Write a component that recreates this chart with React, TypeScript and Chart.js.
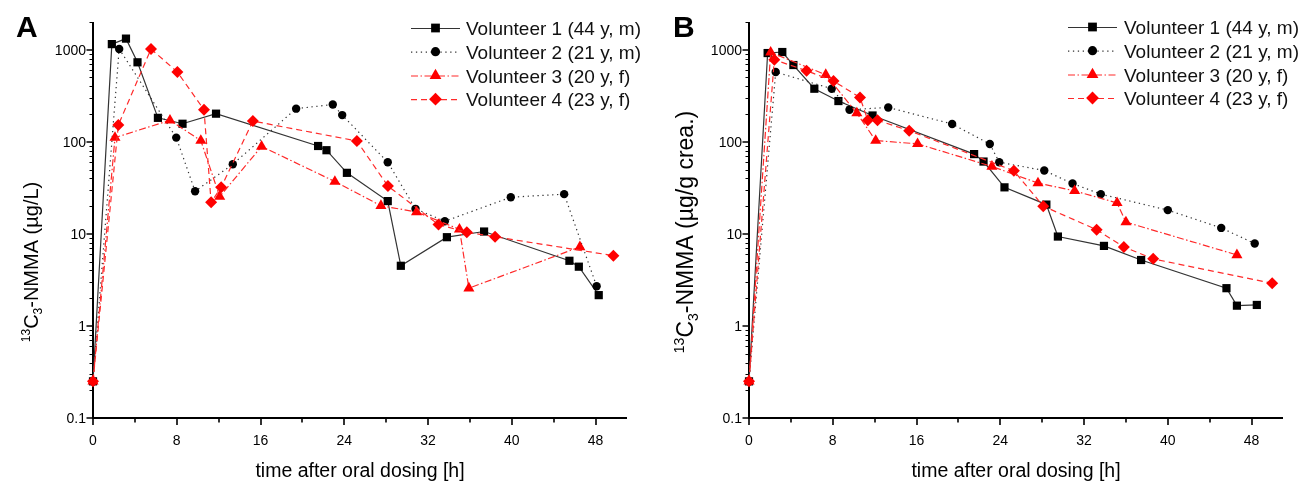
import React, { useEffect, useRef } from 'react';
import { Chart, registerables } from 'chart.js';

Chart.register(...registerables);

const FONT = '"Liberation Sans", Arial, Helvetica, sans-serif';

// ---------- Data ----------
const seriesNames = [
  'Volunteer 1 (44 y, m)',
  'Volunteer 2 (21 y, m)',
  'Volunteer 3 (20 y, f)',
  'Volunteer 4 (23 y, f)',
];

// Panel A: plasma, µg/L
const timeA1 = [0, 1.8, 3.15, 4.25, 6.2, 8.55, 11.75, 21.5, 22.3, 24.25, 28.15, 29.4, 33.8, 37.35, 45.5, 46.4, 48.3];
const concA1 = [0.25, 1150, 1320, 730, 182, 157, 202, 90, 81, 46, 22.7, 4.5, 9.2, 10.6, 5.1, 4.4, 2.16];
const timeA2 = [0, 2.5, 7.95, 9.75, 13.35, 19.4, 22.9, 23.8, 28.15, 30.8, 33.6, 39.9, 45.0, 48.1];
const concA2 = [0.25, 1020, 111, 29, 57, 229, 254, 195, 60, 18.7, 13.7, 25, 27, 2.7];
const timeA3 = [0, 2.1, 7.35, 10.3, 12.1, 16.1, 23.1, 27.5, 30.9, 35.0, 35.9, 46.5];
const concA3 = [0.25, 111, 171, 103, 25.4, 89, 37, 20.2, 17.3, 11.2, 2.57, 7.2];
const timeA4 = [0, 2.42, 5.54, 8.06, 10.6, 11.28, 12.24, 15.27, 25.2, 28.17, 33.0, 35.7, 38.4, 49.7];
const concA4 = [0.25, 152, 1018, 572, 223, 22, 32, 168, 102, 33, 12.6, 10.4, 9.3, 5.8];

// Panel B: urine, µg/g creatinine
const timeB1 = [0, 1.78, 3.18, 4.24, 6.24, 8.54, 11.8, 21.5, 22.4, 24.4, 28.4, 29.5, 33.9, 37.45, 45.6, 46.6, 48.5];
const concB1 = [0.25, 920, 944, 682, 377, 277, 193, 73.5, 61, 32, 20.8, 9.35, 7.4, 5.2, 2.57, 1.66, 1.69];
const timeB2 = [0, 2.55, 7.9, 9.6, 13.3, 19.4, 23.0, 23.9, 28.2, 30.9, 33.6, 40.0, 45.1, 48.3];
const concB2 = [0.25, 572, 377, 223, 236, 156, 94.5, 60, 48.7, 35.2, 27, 18.1, 11.6, 7.85];
const timeB3 = [0, 2.07, 7.33, 10.3, 12.1, 16.1, 23.2, 27.6, 31.1, 35.15, 36.0, 46.6];
const concB3 = [0.25, 935, 535, 205, 103, 95, 54, 35.6, 29.3, 21.7, 13.4, 5.9];
const timeB4 = [0, 2.42, 5.5, 8.07, 10.6, 11.35, 12.27, 15.3, 25.3, 28.1, 33.2, 35.8, 38.6, 49.97];
const concB4 = [0.25, 778, 591, 457, 303, 171, 171, 132, 48.4, 20, 11.1, 7.2, 5.35, 2.9];

// Axis ticks
const xMajorTicks = [0, 8, 16, 24, 32, 40, 48];
const xMinorTicks = [4, 12, 20, 28, 36, 44];
const yMajorTicks = [0.1, 1, 10, 100, 1000];
const yTickLabels = ['0.1', '1', '10', '100', '1000'];
const yMinorMultipliers = [2, 3, 4, 5, 6, 7, 8, 9];

const X_MIN = 0;
const X_MAX = 51;
const Y_MIN = 0.1;
const Y_MAX = 2000;

const xTitle = 'time after oral dosing [h]';

// ---------- Styles ----------
type Shape = 'square' | 'circle' | 'triangle' | 'diamond';
const seriesStyles: { line: string; fill: string; dash: number[]; shape: Shape; cjs: string; r: number }[] = [
  { line: '#333333', fill: '#000000', dash: [], shape: 'square', cjs: 'rect', r: 5.8 },
  { line: '#333333', fill: '#000000', dash: [1.3, 3.6], shape: 'circle', cjs: 'circle', r: 4.2 },
  { line: '#ff2a2a', fill: '#ff0000', dash: [7, 2.5, 1.5, 2.5], shape: 'triangle', cjs: 'triangle', r: 6.4 },
  { line: '#ff2a2a', fill: '#ff0000', dash: [6, 4], shape: 'diamond', cjs: 'rectRot', r: 6 },
];

function drawMarker(ctx: CanvasRenderingContext2D, shape: Shape, x: number, y: number, r: number, color: string) {
  ctx.save();
  ctx.fillStyle = color;
  ctx.beginPath();
  if (shape === 'square') {
    const s = Math.SQRT1_2 * r;
    ctx.rect(x - s, y - s, 2 * s, 2 * s);
  } else if (shape === 'circle') {
    ctx.arc(x, y, r, 0, Math.PI * 2);
  } else if (shape === 'triangle') {
    for (let k = 0; k < 3; k++) {
      const a = (k * 2 * Math.PI) / 3;
      const px = x + Math.sin(a) * r;
      const py = y - Math.cos(a) * r;
      if (k === 0) ctx.moveTo(px, py);
      else ctx.lineTo(px, py);
    }
    ctx.closePath();
  } else {
    ctx.moveTo(x, y - r);
    ctx.lineTo(x + r, y);
    ctx.lineTo(x, y + r);
    ctx.lineTo(x - r, y);
    ctx.closePath();
  }
  ctx.fill();
  ctx.restore();
}

interface PanelCfg {
  letter: string;
  unit: string;
  times: number[][];
  concs: number[][];
  width: number;
  padLeft: number;
  padRight: number;
  yTitleBaselineX: number;
  yTitleCenterY: number;
  yTitleSize: number;
  legendX1: number;
  legendX2: number;
  legendTextX: number;
  legendRows: number[];
  letterX: number;
}

function drawYTitle(ctx: CanvasRenderingContext2D, bx: number, cy: number, unit: string, size: number) {
  const big = `${size}px ${FONT}`;
  const small = `${Math.round(size * 0.62)}px ${FONT}`;
  const parts = [
    { t: '13', f: small, dy: -size * 0.36 },
    { t: 'C', f: big, dy: 0 },
    { t: '3', f: small, dy: size * 0.22 },
    { t: '-NMMA (' + unit + ')', f: big, dy: 0 },
  ];
  ctx.save();
  let w = 0;
  for (const p of parts) {
    ctx.font = p.f;
    w += ctx.measureText(p.t).width;
  }
  ctx.translate(bx, cy);
  ctx.rotate(-Math.PI / 2);
  ctx.fillStyle = '#000';
  ctx.textBaseline = 'alphabetic';
  ctx.textAlign = 'left';
  let x = -w / 2;
  for (const p of parts) {
    ctx.font = p.f;
    ctx.fillText(p.t, x, p.dy);
    x += ctx.measureText(p.t).width;
  }
  ctx.restore();
}

function makeDecor(cfg: PanelCfg) {
  return {
    id: 'decor' + cfg.letter,
    beforeDatasetsDraw(chart: any) {
      const ctx: CanvasRenderingContext2D = chart.ctx;
      const xs = chart.scales.x;
      const ys = chart.scales.y;
      const { left, right, top, bottom } = chart.chartArea;
      ctx.save();
      ctx.strokeStyle = '#000';
      // axis lines
      ctx.lineWidth = 2;
      ctx.beginPath();
      ctx.moveTo(left, top);
      ctx.lineTo(left, bottom + 1);
      ctx.moveTo(left - 1, bottom);
      ctx.lineTo(right, bottom);
      ctx.stroke();
      // x ticks
      ctx.lineWidth = 1.6;
      ctx.beginPath();
      for (const v of xMajorTicks) {
        const px = Math.round(xs.getPixelForValue(v));
        ctx.moveTo(px, bottom);
        ctx.lineTo(px, bottom + 7);
      }
      for (const v of xMinorTicks) {
        const px = Math.round(xs.getPixelForValue(v));
        ctx.moveTo(px, bottom);
        ctx.lineTo(px, bottom + 4.5);
      }
      ctx.stroke();
      // y ticks
      ctx.lineWidth = 1.5;
      ctx.beginPath();
      for (const v of yMajorTicks) {
        const py = Math.round(ys.getPixelForValue(v));
        ctx.moveTo(left, py);
        ctx.lineTo(left - 6.5, py);
      }
      ctx.stroke();
      ctx.lineWidth = 1;
      ctx.beginPath();
      for (const d of yMajorTicks) {
        for (const m of yMinorMultipliers) {
          const v = d * m;
          if (v > Y_MAX) continue;
          const py = Math.round(ys.getPixelForValue(v)) + 0.5;
          ctx.moveTo(left, py);
          ctx.lineTo(left - 3.5, py);
        }
      }
      ctx.stroke();
      ctx.restore();
    },
    afterDraw(chart: any) {
      const ctx: CanvasRenderingContext2D = chart.ctx;
      const xs = chart.scales.x;
      const ys = chart.scales.y;
      const { left, right, bottom } = chart.chartArea;
      ctx.save();
      ctx.fillStyle = '#000';
      // tick labels
      ctx.font = `14px ${FONT}`;
      ctx.textAlign = 'right';
      ctx.textBaseline = 'middle';
      yMajorTicks.forEach((v, i) => {
        ctx.fillText(yTickLabels[i], left - 7, ys.getPixelForValue(v) + 1.5);
      });
      ctx.textAlign = 'center';
      ctx.textBaseline = 'alphabetic';
      for (const v of xMajorTicks) {
        ctx.fillText(String(v), xs.getPixelForValue(v), bottom + 27);
      }
      // x title
      ctx.font = `19.5px ${FONT}`;
      ctx.fillText(xTitle, (left + right) / 2, bottom + 59);
      // panel letter
      ctx.font = `bold 30px ${FONT}`;
      ctx.textAlign = 'left';
      ctx.fillText(cfg.letter, cfg.letterX, 37);
      ctx.restore();
      // y title
      drawYTitle(ctx, cfg.yTitleBaselineX, cfg.yTitleCenterY, cfg.unit, cfg.yTitleSize);
      // legend
      ctx.save();
      seriesStyles.forEach((st, i) => {
        const y = cfg.legendRows[i];
        ctx.strokeStyle = st.line;
        ctx.lineWidth = 1.2;
        ctx.setLineDash(st.dash);
        ctx.beginPath();
        ctx.moveTo(cfg.legendX1, y + 0.5);
        ctx.lineTo(cfg.legendX2, y + 0.5);
        ctx.stroke();
        ctx.setLineDash([]);
        drawMarker(ctx, st.shape, (cfg.legendX1 + cfg.legendX2) / 2, y, st.r + 0.4, st.fill);
        ctx.fillStyle = '#111';
        ctx.font = `19px ${FONT}`;
        ctx.textAlign = 'left';
        ctx.textBaseline = 'alphabetic';
        ctx.fillText(seriesNames[i], cfg.legendTextX, y + 7);
      });
      ctx.restore();
    },
  };
}

const panelA: PanelCfg = {
  letter: 'A',
  unit: 'µg/L',
  times: [timeA1, timeA2, timeA3, timeA4],
  concs: [concA1, concA2, concA3, concA4],
  width: 654,
  padLeft: 93,
  padRight: 27,
  yTitleBaselineX: 37.5,
  yTitleCenterY: 262,
  yTitleSize: 20,
  legendX1: 411,
  legendX2: 460,
  legendTextX: 466,
  legendRows: [28, 51.7, 75.5, 99.2],
  letterX: 16,
};

const panelB: PanelCfg = {
  letter: 'B',
  unit: 'µg/g crea.',
  times: [timeB1, timeB2, timeB3, timeB4],
  concs: [concB1, concB2, concB3, concB4],
  width: 655,
  padLeft: 95,
  padRight: 26,
  yTitleBaselineX: 38.5,
  yTitleCenterY: 232,
  yTitleSize: 23,
  legendX1: 414,
  legendX2: 463,
  legendTextX: 470,
  legendRows: [27, 50.7, 74.5, 98],
  letterX: 19,
};

function Panel({ cfg, left }: { cfg: PanelCfg; left: number }) {
  const ref = useRef<HTMLCanvasElement | null>(null);
  useEffect(() => {
    if (!ref.current) return;
    const datasets = seriesStyles.map((st, i) => ({
      label: seriesNames[i],
      data: cfg.times[i].map((t, j) => ({ x: t, y: cfg.concs[i][j] })),
      borderColor: st.line,
      borderWidth: 1.2,
      borderDash: st.dash,
      backgroundColor: st.fill,
      pointStyle: st.cjs,
      pointRadius: st.r,
      pointBackgroundColor: st.fill,
      pointBorderColor: st.fill,
      pointBorderWidth: 0,
      pointHoverRadius: st.r,
      showLine: true,
      tension: 0,
      fill: false,
      clip: false,
      order: 3 - i,
    }));
    const chart = new Chart(ref.current, {
      type: 'line',
      data: { datasets: datasets as any },
      options: {
        animation: false,
        responsive: false,
        devicePixelRatio: 1,
        events: [],
        layout: { padding: { left: cfg.padLeft, right: cfg.padRight, top: 22, bottom: 63 } },
        scales: {
          x: { type: 'linear', min: X_MIN, max: X_MAX, display: false },
          y: { type: 'logarithmic', min: Y_MIN, max: Y_MAX, display: false },
        },
        plugins: { legend: { display: false }, tooltip: { enabled: false }, title: { display: false } },
      },
      plugins: [makeDecor(cfg)],
    });
    return () => chart.destroy();
  }, [cfg]);
  return (
    <canvas
      ref={ref}
      width={cfg.width}
      height={481}
      style={{ position: 'absolute', left, top: 0, width: cfg.width, height: 481 }}
    />
  );
}

export default function App() {
  return (
    <div style={{ position: 'fixed', left: 0, top: 0, width: 1309, height: 481, background: '#ffffff', overflow: 'hidden' }}>
      <Panel cfg={panelA} left={0} />
      <Panel cfg={panelB} left={654} />
    </div>
  );
}
